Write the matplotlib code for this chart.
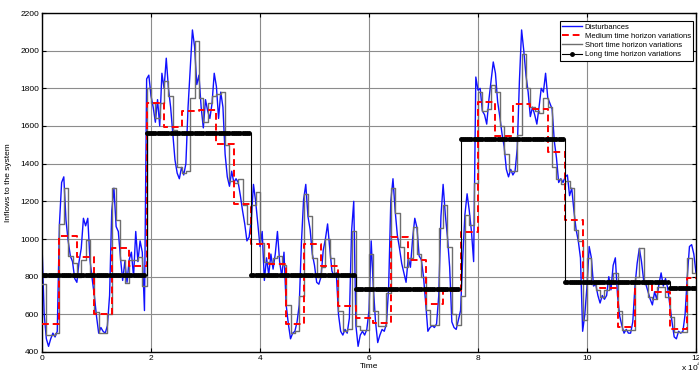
import numpy as np
import matplotlib
matplotlib.use("Agg")
from matplotlib import pyplot as plt

plt.rcParams["font.family"] = ["Liberation Sans", "DejaVu Sans"]

# time steps, in units of 10^4
DT_DISTURBANCE = 0.04
DT_SHORT = 0.08
DT_MEDIUM = 0.32
DT_LONG = 1.92
T_END = 12.0

# disturbance, one value every 0.04
disturbances = np.array([
    970, 600, 470, 430, 470, 500, 480, 510, 1080, 1300,
    1330, 1100, 990, 910, 880, 790, 770, 880, 950, 1110,
    1070, 1110, 890, 790, 700, 590, 500, 530, 510, 500,
    540, 700, 1150, 1270, 1066, 1040, 900, 780, 880, 770,
    890, 930, 800, 1040, 880, 990, 930, 620,
    # 1.92
    1850, 1870, 1760, 1700, 1620, 1740, 1600, 1880, 1800, 1960,
    1800, 1700, 1560, 1420, 1350, 1320, 1380, 1340, 1400, 1700,
    1900, 2110, 2020, 1820, 1870, 1700, 1590, 1740, 1680, 1640,
    1720, 1880, 1810, 1640, 1780, 1700, 1450, 1330, 1280, 1360,
    1300, 1320, 1300, 1230, 1150, 1080, 990, 1010,
    # 3.84
    1100, 1290, 1200, 1080, 960, 1040, 780, 900, 810, 920,
    840, 920, 1040, 880, 800, 930, 650, 550, 470, 500,
    510, 560, 650, 980, 1210, 1290, 1120, 1050, 920, 860,
    770, 760, 800, 940, 1000, 1080, 950, 830, 800, 820,
    600, 510, 490, 520, 500, 580, 1040, 1200,
    # 5.76
    540, 430, 490, 510, 490, 520, 620, 990, 740, 560,
    450, 490, 520, 510, 550, 740, 1200, 1320, 1150, 1020,
    950, 870, 820, 770, 900, 850, 1000, 1110, 1060, 910,
    890, 800, 660, 510, 530, 540, 530, 550, 700, 1120,
    1290, 1130, 1010, 850, 560, 530, 520, 570,
    # 7.68
    620, 900, 1130, 1240, 1150, 1040, 880, 1860, 1790, 1800,
    1680, 1660, 1610, 1740, 1840, 1940, 1880, 1730, 1650, 1560,
    1490, 1370, 1330, 1370, 1340, 1360, 1480, 1840, 2110, 2000,
    1870, 1780, 1650, 1700, 1660, 1610, 1700, 1800, 1780, 1880,
    1750, 1720, 1690, 1520, 1430, 1300, 1320, 1300,
    # 9.60
    1330, 1340, 1230, 1270, 1150, 1050, 990, 900, 510, 600,
    750, 960, 900, 750, 760, 700, 660, 700, 680, 700,
    800, 730, 860, 900, 700, 590, 540, 500, 520, 500,
    500, 560, 750, 870, 950, 880, 780, 760, 720, 680,
    650, 720, 680, 760, 820, 750, 790, 740,
    # 11.52
    650, 560, 480, 470, 510, 500, 510, 600, 800, 960,
    970, 920, 820,
])

# short horizon, one level every 0.08
short_horizon = np.array([
    760, 490, 490, 500, 1080, 1270, 910, 870, 800, 890, 995, 820,
    610, 500, 500, 600, 1270, 1100, 890, 765, 889, 890, 907, 750,
    1800, 1720, 1640, 1720, 1840, 1760, 1580, 1380, 1350, 1360, 1750, 2050,
    1750, 1620, 1720, 1760, 1770, 1780, 1500, 1310, 1300, 1320, 1180, 1080,
    1180, 1250, 980, 880, 870, 900, 910, 860, 650, 500, 510, 700,
    1240, 1120, 900, 800, 850, 1000, 900, 820, 620, 510, 520, 1040,
    540, 517, 517, 920, 620, 540, 540, 712, 1270, 1137, 960, 853,
    900, 1066, 920, 800, 623, 544, 544, 1057, 1181, 960, 600, 544,
    700, 1130, 1075, 1300, 1780, 1680, 1690, 1820, 1780, 1600, 1450, 1360,
    1360, 1550, 1980, 1800, 1700, 1680, 1670, 1750, 1700, 1380, 1320, 1290,
    1310, 1270, 1050, 990, 570, 900, 760, 729, 694, 729, 782, 818,
    620, 517, 517, 517, 800, 950, 760, 694, 680, 747, 747, 694,
    588, 508, 508, 508, 897, 818,
])

# medium horizon, one level every 0.32
medium_horizon = np.array([
    549, 1016, 906, 600, 954, 857,
    1724, 1596, 1680, 1687, 1503, 1188,
    973, 869, 550, 973, 858, 643,
    579, 556, 1009, 888, 655, 723,
    1036, 1726, 1549, 1716, 1691, 1464,
    1101, 772, 738, 534, 773, 720,
    520, 791,
])

# long horizon, one level every 1.92
long_horizon = np.array([810, 1565, 810, 735, 1530, 772, 738])


def step_xy(values, dt):
    edges = np.minimum(np.arange(len(values) + 1) * dt, T_END)
    return edges, np.append(values, values[-1])


fig = plt.figure(figsize=(6.99, 3.74), dpi=100)
ax = fig.add_axes([42 / 699, 1 - 352 / 374, 654 / 699, 339 / 374])

t_dist = np.arange(len(disturbances)) * DT_DISTURBANCE
ax.plot(t_dist, disturbances, color="#1010ff", lw=1.0, zorder=2,
        label="Disturbances")

x_med, y_med = step_xy(medium_horizon, DT_MEDIUM)
ax.plot(x_med, y_med, drawstyle="steps-post", color="#ff0000", lw=1.4,
        ls=(0, (3.5, 2)), zorder=4, label="Medium time horizon variations")

x_short, y_short = step_xy(short_horizon, DT_SHORT)
ax.plot(x_short, y_short, drawstyle="steps-post", color="#6e6e6e", lw=1.0,
        zorder=3, label="Short time horizon variations")

long_idx = np.minimum(np.floor(t_dist / DT_LONG + 1e-9).astype(int),
                      len(long_horizon) - 1)
ax.plot(t_dist, long_horizon[long_idx], drawstyle="steps-post", color="black",
        lw=0.8, marker=".", ms=5, zorder=5,
        label="Long time horizon variations")

ax.set_xlim(0, T_END)
ax.set_ylim(400, 2200)
ax.set_xticks(np.arange(0, 13, 2))
ax.set_xticklabels([str(v) for v in range(0, 13, 2)])
ax.set_yticks(np.arange(400, 2201, 200))
ax.grid(True, color="#8c8c8c", lw=0.8)
ax.set_axisbelow(True)
ax.tick_params(direction="in", length=3, labelsize=6, top=True, right=True,
               pad=2, width=0.8)
for spine in ax.spines.values():
    spine.set_linewidth(1.0)

ax.set_xlabel("Time", fontsize=6, labelpad=1)
ax.set_ylabel("Inflows to the system", fontsize=6, labelpad=6)
fig.text(681 / 699, 1 - 373 / 374, "x 10$^4$", fontsize=6, ha="left",
         va="bottom")

leg = ax.legend(loc="upper right", bbox_to_anchor=(693 / 699, 1 - 21 / 374),
                bbox_transform=fig.transFigure, borderaxespad=0, fontsize=5.5,
                fancybox=False, framealpha=1, edgecolor="black",
                handlelength=2.6, labelspacing=0.25, borderpad=0.3,
                handletextpad=0.3)
leg.get_frame().set_linewidth(0.8)

fig.savefig("out.png", dpi=100)
